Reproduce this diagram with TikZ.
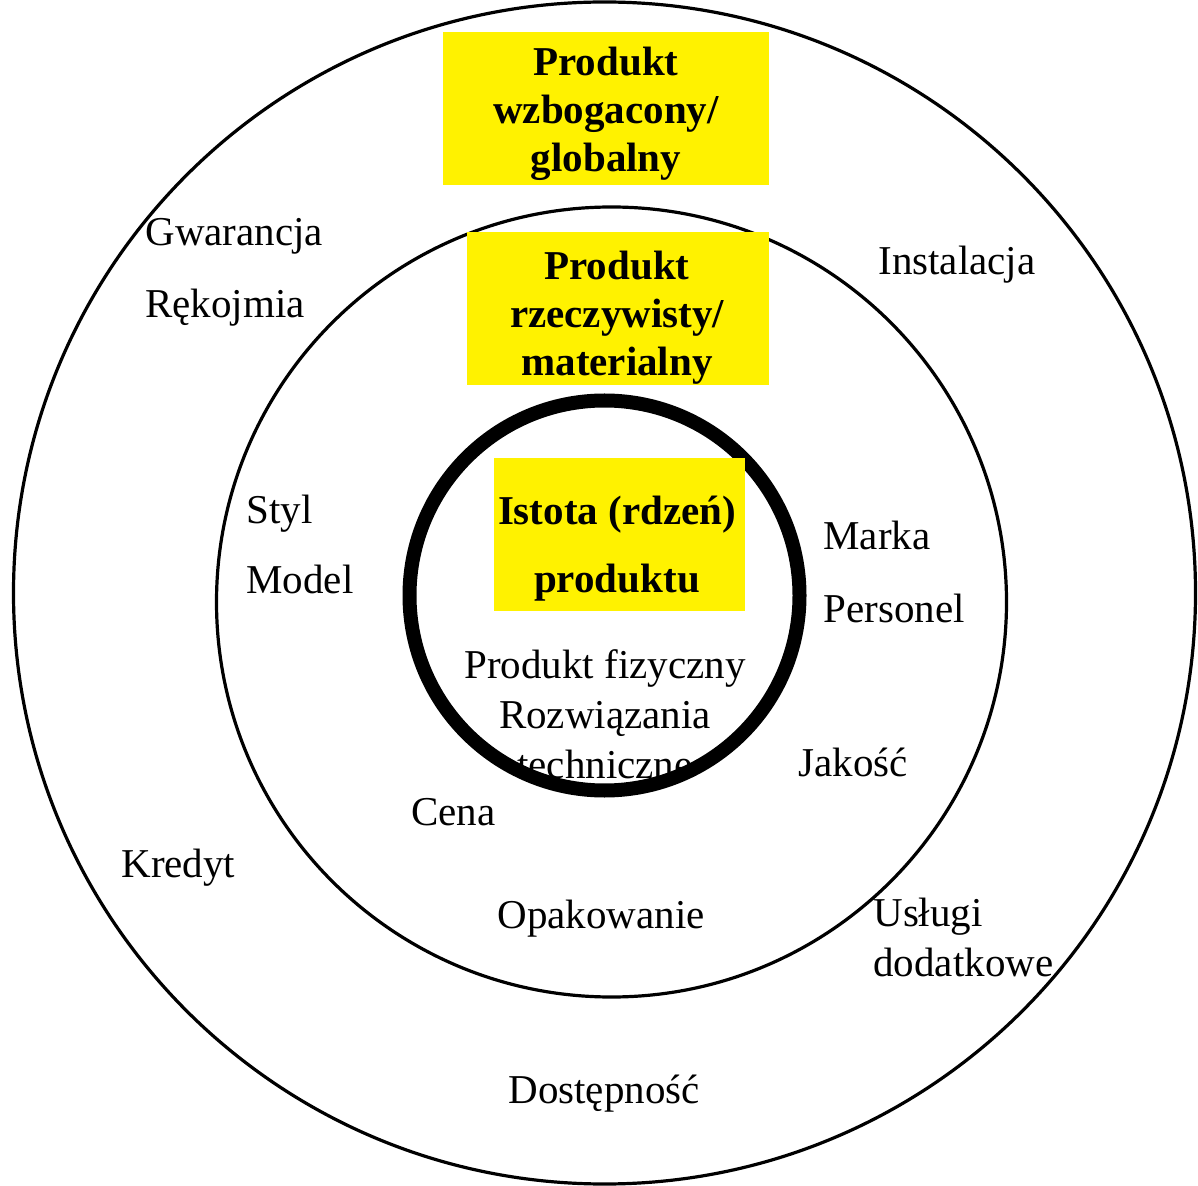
\documentclass[tikz,border=0pt]{standalone}
\usepackage{fontspec}
\setmainfont{Liberation Serif}
\tikzset{
  okrag/.style={
    draw,
    circle,
    inner sep=0pt,
    line width=1.6pt
  },
  pole/.style={
    fill=yellow,
    inner sep=0pt,
    anchor=north west
  },
  napis/.style={
    font=\fontsize{20.5}{25}\selectfont,
    inner sep=0pt,
    anchor=base west
  },
  naglowek/.style={
    font=\fontsize{20.5}{24}\bfseries\selectfont,
    inner sep=0pt,
    align=center,
    anchor=base
  }
}

\begin{document}
\begin{tikzpicture}[x=0.5pt, y=-0.5pt]
    \useasboundingbox (0,0) rectangle (1198,1186);
    % tytuł (ucięty)
    \node[font=\fontsize{32}{32}\bfseries\selectfont, inner sep=0pt, anchor=base west] (tytul) at (-12,-13) {y\hspace{10pt}p};

    % okręgi
    \node[okrag, minimum size=591pt] (zewn) at (604.5,593) {};
    \node[okrag, minimum size=395pt] (srodek) at (611.5,602) {};

    % rdzeń
    \node[napis, anchor=base, align=center] (fizyczny) at (605,778) {Produkt fizyczny\\Rozwiązania\\techniczne};
    \node[okrag, line width=7pt, minimum size=195pt] (rdzen) at (604.5,595.5) {};

    % pola
    \node[pole, minimum width=163pt, minimum height=76.5pt] (pole1) at (443,32) {};
    \begin{scope}
      \clip (pole1.north west) rectangle (pole1.south east);
      \node[naglowek] (globalny) at (606,172) {Produkt\\wzbogacony/\\globalny};
    \end{scope}
    \node[pole, minimum width=151pt, minimum height=76.5pt] (pole2) at (467,232) {};
    \begin{scope}
      \clip (pole2.north west) rectangle (pole2.south east);
      \node[naglowek] (materialny) at (617,376) {Produkt\\rzeczywisty/\\materialny};
    \end{scope}
    \node[pole, minimum width=125.5pt, minimum height=76.5pt] (pole3) at (494,458) {};
    \node[naglowek, font=\fontsize{20.5}{34}\bfseries\selectfont] (istota) at (617,593) {Istota (rdzeń)\\produktu};

    % etykiety
    \node[napis] (gwarancja) at (145,246) {Gwarancja};
    \node[napis] (rekojmia) at (145,318) {Rękojmia};
    \node[napis] (instalacja) at (878,275) {Instalacja};
    \node[napis] (styl) at (246,524) {Styl};
    \node[napis] (model) at (246,594) {Model};
    \node[napis] (marka) at (823,550) {Marka};
    \node[napis] (personel) at (823,622) {Personel};
    \node[napis] (jakosc) at (798,776) {Jakość};
    \node[napis] (cena) at (411,825) {Cena};
    \node[napis] (kredyt) at (121,877) {Kredyt};
    \node[napis] (opakowanie) at (497,928) {Opakowanie};
    \node[napis, align=left] (uslugi) at (873,976) {Usługi\\dodatkowe};
    \node[napis] (dostepnosc) at (508,1103) {Dostępność};
\end{tikzpicture}
\end{document}
